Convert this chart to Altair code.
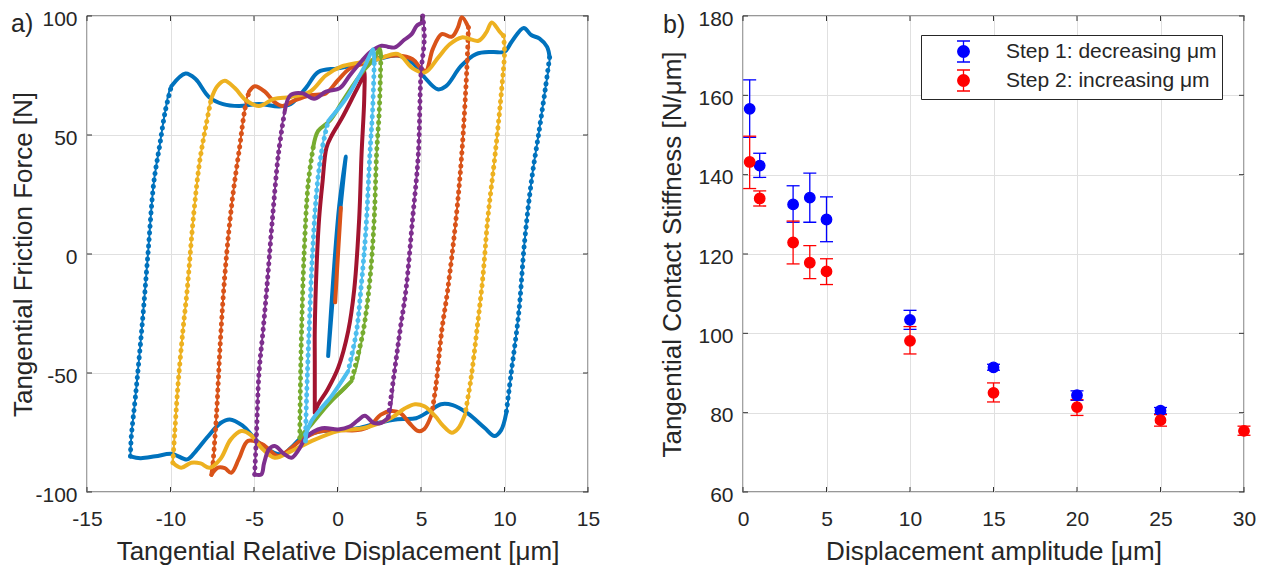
import altair as alt
import pandas as pd

# ---------------- panel a) : hysteresis loops (displacement [um], friction force [N])
loop_a125 = [(-12.4,-85),(-12.35,-77),(-12.1,-60),(-11.7,-30),(-11.35,0),(-11.0,30),(-10.65,45.5),(-10.3,60.5),
             (-9.95,70.5),(-9.1,75.8),(-8.5,73.5),(-7.7,66),(-6.85,63),(-5.9,62.2),(-4.7,63),(-3.5,62),(-2.8,63),
             (-1.9,69.7),(-1.15,76.5),(0,78),(1.2,79.6),(2.4,81.8),(3.6,83.4),(4.5,80.3),(5.2,74.3),(6.0,69.2),
             (6.5,70.5),(7.4,79),(8.3,84),(9.3,84.9),(10.0,85),(10.45,89.4),(11.15,95),(11.6,92),(12.1,90.5),
             (12.55,87),(12.7,82.6),(12.45,69.7),(12.1,53),(11.6,30),(11.2,5),(10.85,-25),(10.4,-50),(10.1,-67),
             (9.8,-74),(9.4,-76.5),(8.8,-73),(7.8,-67),(6.9,-63.5),(6.2,-63.1),(5.5,-66),(4.7,-69),(3.6,-69.4),
             (2.4,-71),(1.2,-73.2),(0,-74),(-1.15,-74.7),(-2.1,-77),(-2.8,-81.5),(-3.2,-84),(-3.6,-84),(-4.7,-79.3),
             (-5.7,-72),(-6.45,-69.5),(-7.0,-71),(-7.8,-77),(-8.5,-83),(-9.0,-86.3),(-9.9,-84),(-10.9,-85),
             (-11.8,-85.8),(-12.4,-85)]
loop_a75 = [(-7.55,-92.8),(-7.45,-87.6),(-7.25,-68),(-7.0,-35),(-6.7,-5),(-6.3,22.8),(-5.85,45.5),(-5.55,60.7),
            (-5.3,68.2),(-4.95,70.5),(-4.35,68.2),(-3.75,63.7),(-3.3,62.2),(-2.6,64.4),(-1.65,66.7),(-0.7,67.5),
            (0.0,72.8),(0.75,78),(1.7,80.3),(2.6,82.6),(3.6,83.4),(4.5,81.8),(5.0,78),(5.3,77),(5.7,86),(6.24,92.4),
            (6.84,91.3),(7.2,95),(7.45,99.5),(7.84,95.2),(7.74,77),(7.44,41.9),(7.1,15),(6.6,-15),(6.24,-32.4),
            (5.9,-55),(5.64,-67.4),(5.2,-73.5),(4.84,-74.4),(4.3,-71),(3.8,-67),(3.24,-66),(2.6,-67.5),(1.9,-72.5),
            (1.2,-74),(0,-74),(-1.15,-74.7),(-2.1,-77.8),(-3.05,-83.1),(-3.56,-84.9),(-4.5,-80),(-5.36,-78.5),
            (-5.9,-86),(-6.36,-91.9),(-6.75,-90),(-7.16,-89.8),(-7.55,-92.8)]
loop_a10 = [(-9.86,-87.7),(-9.75,-75.5),(-9.55,-55),(-9.26,-32.4),(-9.0,-15),(-8.63,15.3),(-8.27,38),(-7.9,53.1),
            (-7.56,65.2),(-7.2,70.5),(-6.75,72.8),(-6.15,69.7),(-5.45,64.4),(-4.7,62.2),(-3.8,65.2),(-2.8,66),
            (-1.65,68.2),(-0.7,75),(0.25,78.8),(1.2,80.3),(2.4,81.8),(3.6,84.1),(4.5,78),(5.24,76.3),(6.04,82.6),
            (6.7,88),(7.44,91),(8.44,89.6),(8.9,93),(9.24,97.3),(9.7,93.5),(9.94,91.7),(10.0,85),(9.84,70),
            (9.44,41.9),(9.0,15),(8.7,-10),(8.34,-32.4),(8.0,-52),(7.64,-67.4),(7.2,-73.5),(6.84,-75.1),(6.3,-72),
            (5.84,-68),(5.2,-64),(4.64,-63.1),(4.0,-65),(3.24,-68.8),(1.64,-73),(0.04,-74.4),(-1.56,-78.6),
            (-2.76,-82.8),(-3.76,-85.6),(-4.56,-81.4),(-5.2,-76),(-5.76,-74.4),(-6.4,-78),(-7.0,-86),(-7.66,-89.8),
            (-8.2,-88),(-8.76,-87.7),(-9.36,-89.8),(-9.86,-87.7)]
loop_a5 = [(-4.96,-92.6),(-4.85,-75.5),(-4.7,-50),(-4.46,-32.4),(-4.24,-15),(-3.89,15.3),(-3.53,42.5),(-3.18,59.2),
           (-2.82,66.7),(-2.1,67.5),(-1.4,65.2),(-0.69,68.2),(0.14,69.7),(0.73,75),(1.45,81.1),(2.0,85),(2.64,87.5),
           (3.0,87.1),(3.44,86.8),(4.0,90),(4.44,92.4),(4.74,95.9),(5.04,97.3),(5.1,100),(5.2,91),(5.0,75.8),
           (4.84,41.9),(4.5,15),(4.1,-15),(3.74,-32.4),(3.4,-50),(3.04,-68.8),(2.6,-71),(2.16,-71),(1.64,-68),
           (1.2,-70),(0.73,-72.5),(0.04,-73.7),(-0.92,-73.2),(-1.87,-77),(-2.3,-82),(-2.76,-85.6),(-3.2,-84),
           (-3.76,-80.7),(-4.1,-82),(-4.4,-88),(-4.56,-92.6),(-4.96,-92.6)]
loop_a25 = [(-2.26,-77.2),(-2.22,-55),(-2.15,-32),(-2.0,0),(-1.75,30),(-1.45,45),(-1.16,51.7),(-0.45,56.1),
            (0.26,63.7),(0.97,71.3),(1.68,78),(2.16,81.8),(2.54,86.1),(2.6,83),(2.5,60),(2.34,41.9),(2.2,15),
            (1.95,-10),(1.54,-32.4),(0.84,-53.4),(-0.56,-63.2),(-1.56,-71.6),(-2.0,-75),(-2.26,-77.2)]
loop_a2 = [(-1.92,-78.6),(-1.85,-60),(-1.7,-32),(-1.5,0),(-1.2,30),(-0.9,45),(-0.56,55.9),(0.5,65.2),(1.2,73.5),
           (1.68,79.6),(2.0,84.5),(2.14,86),(2.2,80),(2.1,60),(1.94,41.9),(1.7,10),(1.4,-15),(1.14,-32.4),
           (0.64,-49.2),(-0.36,-59.7),(-1.0,-65),(-1.56,-70.2),(-1.85,-75),(-1.92,-78.6)]
loop_a15 = [(-1.36,-66.7),(-1.36,-45),(-1.36,-32),(-1.25,-5),(-1.1,15),(-0.9,30),(-0.66,44.7),(-0.33,50),(0.26,57),
            (0.97,66.7),(1.45,73.5),(1.6,77),(1.6,65),(1.44,41.9),(1.3,15),(1.0,-15),(0.64,-32.4),(0.04,-47.8),
            (-0.6,-57),(-1.16,-63.2),(-1.36,-66.7)]
loop_a05 = [(-0.56,-42.9),(-0.25,-10),(0.1,20),(0.5,41),(0.45,38),(0.05,10),(-0.3,-20),(-0.56,-42.9)]
loop_a02 = [(-0.14,-20.3),(0.03,0),(0.2,19.4)]

# (points, colour, steep parts drawn as sample dots)
loops = [(loop_a125, "#0072BD", True), (loop_a75, "#D95319", True), (loop_a10, "#EDB120", True),
         (loop_a5, "#7E2F8E", True), (loop_a15, "#A2142F", False), (loop_a25, "#77AC30", True),
         (loop_a2, "#4DBEEE", True), (loop_a05, "#0072BD", False), (loop_a02, "#D95319", False)]
xticks_a = [-15, -10, -5, 0, 5, 10, 15]
yticks_a = [-100, -50, 0, 50, 100]

# ---------------- panel b) : tangential contact stiffness
amp_step1 = [0.4, 1, 3, 4, 5, 10, 15, 20, 25]
k_step1 = [156.6, 142.3, 132.5, 134.2, 128.7, 103.4, 91.4, 84.4, 80.5]
lo_step1 = [149.4, 139.3, 128.0, 128.0, 123.1, 101.0, 90.7, 83.1, 79.7]
hi_step1 = [163.9, 145.4, 137.2, 140.4, 134.4, 105.8, 92.2, 85.5, 81.3]
amp_step2 = [0.4, 1, 3, 4, 5, 10, 15, 20, 25, 30]
k_step2 = [143.2, 134.0, 122.9, 117.8, 115.6, 98.1, 85.0, 81.4, 78.1, 75.4]
lo_step2 = [136.5, 132.1, 117.5, 113.8, 112.3, 94.8, 82.7, 79.3, 76.6, 74.3]
hi_step2 = [149.7, 135.9, 128.3, 122.1, 118.8, 101.7, 87.5, 83.3, 79.5, 76.6]
series_labels = ["Step 1: decreasing μm", "Step 2: increasing μm"]
series_colors = ["#0000FF", "#FF0000"]
xticks_b = [0, 5, 10, 15, 20, 25, 30]
yticks_b = [60, 80, 100, 120, 140, 160, 180]

FONT = "Liberation Sans"
TXT = "#262626"
FRAME = "#333333"

# ---------- left chart
xs_a = alt.Scale(domain=[xticks_a[0], xticks_a[-1]], nice=False, zero=False)
ys_a = alt.Scale(domain=[yticks_a[0], yticks_a[-1]], nice=False, zero=False)
neg_expr = "datum.value < 0 ? '-' + format(-datum.value, 'd') : format(datum.value, 'd')"
ax_a = alt.Axis(values=xticks_a, title="Tangential Relative Displacement [μm]",
                labelExpr=neg_expr, labelPadding=16, titlePadding=9, labelFlush=False)
ay_a = alt.Axis(values=yticks_a, title="Tangential Friction Force [N]",
                labelExpr=neg_expr, labelPadding=10, titlePadding=-2, labelOffset=3, labelFlush=False)


def split_runs(pts):
    """split a loop into runs of steep (fast, sparsely sampled) and flat segments"""
    steep = []
    for (x0, y0), (x1, y1) in zip(pts[:-1], pts[1:]):
        dy, dx = abs(y1 - y0), abs(x1 - x0)
        steep.append(dy > 6 and dy > 25 * dx)
    runs = []
    cur_kind, cur = steep[0], [0, 1]
    for i in range(1, len(steep)):
        if steep[i] == cur_kind:
            cur.append(i + 1)
        else:
            runs.append((cur_kind, cur))
            cur_kind, cur = steep[i], [i, i + 1]
    runs.append((cur_kind, cur))
    return runs


def enc():
    return dict(x=alt.X("disp:Q", scale=xs_a, axis=ax_a), y=alt.Y("force:Q", scale=ys_a, axis=ay_a),
                order="i:Q")


def frame_ticks(xvals, yvals, xs, ys, ax, ay):
    """MATLAB style inward ticks on all four sides of the box"""
    dfx = pd.DataFrame({"v": xvals})
    dfy = pd.DataFrame({"v": yvals})
    out = []
    for yv, off in [(yvals[0], -2.5), (yvals[-1], 2.5)]:
        out.append(alt.Chart(dfx).mark_tick(orient="vertical", size=5, thickness=1, color=FRAME,
                                            opacity=1, yOffset=off).encode(
            x=alt.X("v:Q", scale=xs, axis=ax), y=alt.datum(yv, scale=ys, axis=ay)))
    for xv, off in [(xvals[0], 2.5), (xvals[-1], -2.5)]:
        out.append(alt.Chart(dfy).mark_tick(orient="horizontal", size=5, thickness=1, color=FRAME,
                                            opacity=1, xOffset=off).encode(
            x=alt.datum(xv, scale=xs, axis=ax), y=alt.Y("v:Q", scale=ys, axis=ay)))
    return out


layers = []
for li, (pts, col, beaded) in enumerate(loops):
    d = pd.DataFrame(pts, columns=["disp", "force"])
    d["i"] = range(len(d))
    if not beaded:
        layers.append(alt.Chart(d).mark_line(color=col, strokeWidth=4, interpolate="catmull-rom",
                                             strokeCap="round", strokeJoin="round").encode(**enc()))
        continue
    rows = []
    for r, (kind, idx) in enumerate(split_runs(pts)):
        for k in idx:
            rows.append({"disp": pts[k][0], "force": pts[k][1], "i": k, "run": r,
                         "kind": "steep" if kind else "flat"})
    dr = pd.DataFrame(rows)
    layers.append(alt.Chart(d).mark_line(color=col, strokeWidth=2, interpolate="catmull-rom",
                                         strokeJoin="round").encode(**enc()))
    layers.append(alt.Chart(dr).transform_filter("datum.kind == 'flat'").mark_line(
        color=col, strokeWidth=4, interpolate="catmull-rom", strokeCap="round", strokeJoin="round"
    ).encode(detail="run:N", **enc()))
    layers.append(alt.Chart(dr).transform_filter("datum.kind == 'steep'").mark_line(
        color=col, strokeWidth=5, interpolate="catmull-rom", strokeCap="round", strokeDash=[0.1, 6.5]
    ).encode(detail="run:N", **enc()))

label_a = alt.Chart(pd.DataFrame({"t": ["a)"]})).mark_text(
    align="left", baseline="alphabetic", dx=-76, dy=16, fontSize=25, font=FONT, color=TXT
).encode(x=alt.datum(xticks_a[0], scale=xs_a, axis=ax_a), y=alt.datum(yticks_a[-1], scale=ys_a, axis=ay_a),
         text="t:N")

left = alt.layer(*layers, *frame_ticks(xticks_a, yticks_a, xs_a, ys_a, ax_a, ay_a), label_a).properties(
    width=501, height=476)

# ---------- right chart
rows = []
for lab, a, k, lo, hi in [(series_labels[0], amp_step1, k_step1, lo_step1, hi_step1),
                          (series_labels[1], amp_step2, k_step2, lo_step2, hi_step2)]:
    for j in range(len(a)):
        rows.append({"amp": a[j], "k": k[j], "lo": lo[j], "hi": hi[j], "series": lab})
df_b = pd.DataFrame(rows)

xs_b = alt.Scale(domain=[xticks_b[0], xticks_b[-1]], nice=False, zero=False)
ys_b = alt.Scale(domain=[yticks_b[0], yticks_b[-1]], nice=False, zero=False)
ax_b = alt.Axis(values=xticks_b, title="Displacement amplitude [μm]", labelPadding=16, titlePadding=9,
                labelFlush=False)
ay_b = alt.Axis(values=yticks_b, title="Tangential Contact Stiffness [N/μm]",
                labelPadding=10, titlePadding=12, labelOffset=3, labelFlush=False)
cscale = alt.Scale(domain=series_labels, range=series_colors)

sym_path = ("M-0.62,-1H0.62M0,-1V1M-0.62,1H0.62"
            "M0.55,0A0.55,0.55,0,1,1,-0.55,0A0.55,0.55,0,1,1,0.55,0Z")
leg = alt.Legend(title=None, orient="none", legendX=834, legendY=19, direction="vertical",
                 symbolType=sym_path, symbolSize=441, symbolStrokeWidth=1.3, symbolOffset=26,
                 labelOffset=31, labelFontSize=21, labelFont=FONT, labelColor=TXT, labelLimit=500,
                 padding=5, rowPadding=2, strokeColor="#262626", fillColor="white", cornerRadius=0,
                 symbolOpacity=1)

xb = alt.X("amp:Q", scale=xs_b, axis=ax_b)
bar_layers = []
for lab, col in zip(series_labels, series_colors):
    sub = alt.Chart(df_b).transform_filter(alt.datum.series == lab)
    bar_layers.append(sub.mark_rule(strokeWidth=1.3, color=col).encode(
        x=xb, y=alt.Y("lo:Q", scale=ys_b, axis=ay_b), y2="hi:Q"))
    bar_layers.append(sub.mark_tick(orient="horizontal", thickness=1.3, size=13, opacity=1, color=col).encode(
        x=xb, y=alt.Y("lo:Q", scale=ys_b, axis=ay_b)))
    bar_layers.append(sub.mark_tick(orient="horizontal", thickness=1.3, size=13, opacity=1, color=col).encode(
        x=xb, y=alt.Y("hi:Q", scale=ys_b, axis=ay_b)))
points = alt.Chart(df_b).mark_point(filled=True, size=110, strokeWidth=1.3, opacity=1).encode(
    x=xb, y=alt.Y("k:Q", scale=ys_b, axis=ay_b),
    fill=alt.Fill("series:N", scale=cscale, legend=leg),
    stroke=alt.Stroke("series:N", scale=cscale, legend=leg))
label_b = alt.Chart(pd.DataFrame({"t": ["b)"]})).mark_text(
    align="left", baseline="alphabetic", dx=-80, dy=17, fontSize=25, font=FONT, color=TXT
).encode(x=alt.datum(xticks_b[0], scale=xs_b, axis=ax_b), y=alt.datum(yticks_b[-1], scale=ys_b, axis=ay_b),
         text="t:N")

right = alt.layer(*frame_ticks(xticks_b, yticks_b, xs_b, ys_b, ax_b, ay_b), *bar_layers, points,
                  label_b).properties(width=501, height=476)

chart = alt.hconcat(left, right, spacing=58).properties(
    padding={"left": 2, "top": -3, "right": 0, "bottom": 0}
).configure(font=FONT).configure_axis(
    grid=True, gridColor="#e0e0e0", gridWidth=1, domain=False, ticks=False,
    labelFontSize=21, titleFontSize=26, titleFontWeight="normal", labelFont=FONT, titleFont=FONT,
    labelColor=TXT, titleColor=TXT
).configure_view(stroke=FRAME, strokeWidth=1.3)

chart.save("out.html", embed_options={"renderer": "svg", "actions": False})
